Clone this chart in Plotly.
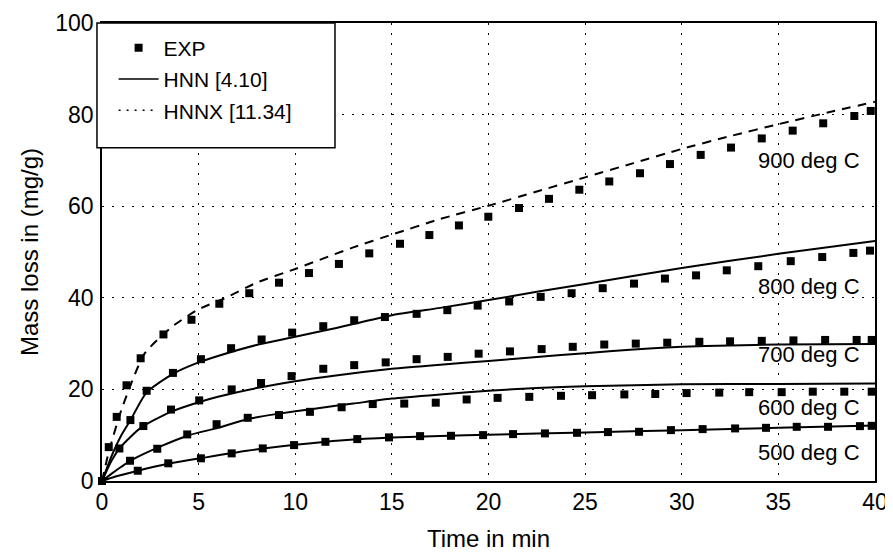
import plotly.graph_objects as go

# ---------------- data ----------------
# Experimental points (EXP)
t500 = [0, 1.85, 3.43, 5.12, 6.71, 8.32, 9.94, 11.56, 13.21, 14.85, 16.46, 18.06, 19.72, 21.27,
        22.92, 24.58, 26.18, 27.79, 29.44, 31.08, 32.76, 34.36, 35.95, 37.57, 39.22, 39.83]
e500 = [0, 2.24, 3.86, 4.95, 6.03, 7.12, 7.84, 8.56, 9.15, 9.52, 9.80, 9.87, 10.02, 10.24,
        10.39, 10.52, 10.68, 10.74, 11.11, 11.33, 11.48, 11.61, 11.83, 11.83, 11.98, 12.05]

t600 = [0, 1.45, 2.86, 4.41, 5.93, 7.54, 9.16, 10.76, 12.4, 14.01, 15.64, 17.27, 18.87, 20.47,
        22.11, 23.75, 25.36, 27.03, 28.63, 30.25, 31.94, 33.49, 35.17, 36.78, 38.41, 39.83]
e600 = [0, 4.42, 7.04, 10.17, 12.4, 13.8, 14.4, 15.1, 16.1, 16.8, 16.9, 17.1, 17.8, 18.15,
        18.37, 18.6, 18.74, 18.9, 19.0, 19.2, 19.3, 19.4, 19.4, 19.5, 19.5, 19.5]

t700 = [0, 0.9, 2.14, 3.57, 5.03, 6.71, 8.23, 9.81, 11.45, 13.05, 14.68, 16.28, 17.89, 19.49,
        21.11, 22.75, 24.36, 25.99, 27.62, 29.25, 30.91, 32.5, 34.14, 35.78, 37.42, 39.05, 39.83]
e700 = [0, 7.1, 12.0, 15.6, 17.6, 20.0, 21.4, 22.9, 24.5, 25.3, 25.9, 26.6, 27.1, 27.8,
        28.3, 28.8, 29.3, 29.8, 30.0, 30.2, 30.4, 30.5, 30.6, 30.7, 30.8, 30.8, 30.8]

t800 = [0, 1.47, 2.31, 3.67, 5.12, 6.68, 8.26, 9.84, 11.45, 13.05, 14.64, 16.28, 17.87, 19.44,
        21.07, 22.7, 24.3, 25.91, 27.53, 29.13, 30.74, 32.33, 33.96, 35.64, 37.27, 38.88, 39.74]
e800 = [0, 13.3, 19.7, 23.6, 26.6, 29.0, 30.9, 32.4, 33.8, 35.1, 35.8, 36.5, 37.3, 38.3,
        39.2, 40.2, 41.0, 42.1, 43.1, 44.2, 44.9, 46.0, 46.9, 48.0, 48.9, 49.8, 50.3]

t900 = [0, 0.35, 0.76, 1.27, 2.0, 3.18, 4.63, 6.07, 7.62, 9.16, 10.71, 12.26, 13.83, 15.42,
        16.94, 18.47, 19.99, 21.58, 23.13, 24.7, 26.25, 27.84, 29.39, 30.98, 32.55, 34.14,
        35.74, 37.32, 38.93, 39.78]
e900 = [0, 7.4, 14.0, 20.9, 26.8, 32.0, 35.2, 38.7, 41.0, 43.3, 45.4, 47.4, 49.7, 51.8,
        53.7, 55.8, 57.7, 59.6, 61.6, 63.6, 65.4, 67.2, 69.2, 71.2, 72.8, 74.8,
        76.5, 78.1, 79.7, 80.8]

# Model curves (HNN for 500-800, HNNX for 900)
m500_t = [0, 0.5, 1, 2, 3, 4, 5, 7.5, 10, 12.5, 15, 17.5, 20, 25, 30, 35, 40]
m500_v = [0, 0.7, 1.3, 2.4, 3.4, 4.2, 4.9, 6.6, 7.9, 8.9, 9.5, 9.85, 10.1, 10.6, 11.1, 11.6, 12.1]

m600_t = [0, 0.5, 1, 1.5, 3, 4.5, 6, 7.5, 9, 11, 13, 15, 17.5, 20, 22.5, 25, 30, 35, 40]
m600_v = [0, 1.6, 3.1, 4.5, 7.5, 10.0, 11.6, 13.5, 14.6, 15.8, 16.9, 18.0, 18.9, 19.7, 20.3, 20.7, 21.1, 21.2, 21.3]

m700_t = [0, 0.5, 1, 2, 3.5, 5, 6, 8, 10, 12, 15, 17.5, 20, 22.5, 25, 27.5, 30, 32.5, 35, 40]
m700_v = [0, 4.5, 7.6, 11.6, 15.0, 17.2, 18.4, 20.3, 21.8, 23.0, 24.5, 25.4, 26.2, 27.1, 27.9, 28.7, 29.3, 29.6, 29.8, 29.9]

m800_t = [0, 0.5, 1, 1.5, 2.3, 3.67, 5, 6, 8, 10, 12, 15, 17.5, 20, 22.5, 25, 30, 35, 40]
m800_v = [0, 5.5, 10.0, 13.5, 19.3, 23.4, 25.9, 27.3, 29.7, 31.5, 33.3, 36.2, 37.8, 39.5, 41.3, 43.0, 46.5, 49.6, 52.4]

m900_t = [0, 0.33, 1, 2.2, 3.6, 5, 6.3, 8, 10, 13, 15, 17.5, 20, 22.5, 25, 27.5, 30, 32.5, 35, 37.5, 40]
m900_v = [0, 6.0, 15.5, 27.8, 33.6, 37.5, 39.8, 43.3, 46.3, 51.0, 53.8, 57.2, 60.1, 63.2, 66.3, 69.4, 72.5, 75.3, 77.9, 80.4, 82.8]

series_labels = ["900 deg C", "800 deg C", "700 deg C", "600 deg C", "500 deg C"]
label_t = [36.6, 36.6, 36.6, 36.6, 36.6]
label_v = [69.9, 42.5, 27.7, 16.1, 6.3]

legend_names = ["EXP", "HNN [4.10]", "HNNX [11.34]"]
x_ticks = [0, 5, 10, 15, 20, 25, 30, 35, 40]
y_ticks = [0, 20, 40, 60, 80, 100]

# ---------------- figure ----------------
FONT = "Liberation Sans, Arial, sans-serif"
fig = go.Figure()

model = [(m500_t, m500_v, "solid"), (m600_t, m600_v, "solid"), (m700_t, m700_v, "solid"),
         (m800_t, m800_v, "solid"), (m900_t, m900_v, "9px,7px")]
for tx, vy, dash in model:
    fig.add_trace(go.Scatter(x=tx, y=vy, mode="lines",
                             line=dict(color="black", width=2, dash=dash, shape="spline", smoothing=0.6),
                             showlegend=False, hoverinfo="skip"))

for tx, vy in [(t500, e500), (t600, e600), (t700, e700), (t800, e800), (t900, e900)]:
    fig.add_trace(go.Scatter(x=tx, y=vy, mode="markers",
                             marker=dict(symbol="square", size=8, color="black"),
                             showlegend=False, cliponaxis=False))

# legend-only entries
fig.add_trace(go.Scatter(x=[None], y=[None], mode="markers", name=legend_names[0],
                         marker=dict(symbol="square", size=8, color="black"), legendgroup="a"))
fig.add_trace(go.Scatter(x=[None], y=[None], mode="lines", name=legend_names[1],
                         line=dict(color="black", width=1.5), legendgroup="b"))
fig.add_trace(go.Scatter(x=[None], y=[None], mode="lines", name=legend_names[2],
                         line=dict(color="black", width=1.5, dash="2px,6px"), legendgroup="c"))

for lab, tx, vy in zip(series_labels, label_t, label_v):
    fig.add_annotation(x=tx, y=vy, text=lab, showarrow=False,
                       font=dict(family=FONT, size=22, color="black"))

# legend box
fig.add_shape(type="rect", xref="paper", yref="paper", x0=-0.0065, x1=0.3014, y0=0.7277, y1=1.0,
              line=dict(color="black", width=1.5), fillcolor="white", layer="above")

axis_common = dict(showline=True, linecolor="black", linewidth=1.5, mirror=True,
                   showgrid=True, gridcolor="black", gridwidth=1.3, griddash="1.5px,8.5px",
                   zeroline=False, ticks="", automargin=False,
                   tickfont=dict(family=FONT, size=23, color="black"))

# the page body has an 8px margin, so the figure is drawn 8px smaller and offset
fig.update_layout(
    width=885, height=549,
    margin=dict(l=94, r=18, t=15, b=76),
    paper_bgcolor="white", plot_bgcolor="white",
    showlegend=True,
    legend=dict(x=0.015, y=0.99, xanchor="left", yanchor="top", bgcolor="rgba(0,0,0,0)",
                borderwidth=0, font=dict(family=FONT, size=21, color="black"),
                traceorder="grouped", tracegroupgap=1, itemwidth=40),
    xaxis=dict(range=[0, 40], tickvals=x_ticks, title=dict(text="Time in min", standoff=16,
               font=dict(family=FONT, size=24, color="black")), **axis_common),
    yaxis=dict(range=[0, 100], tickvals=y_ticks, ticklabelstandoff=2,
               title=dict(text="Mass loss in (mg/g)", standoff=10,
               font=dict(family=FONT, size=24, color="black")), **axis_common),
)

fig.write_html("out.html")
